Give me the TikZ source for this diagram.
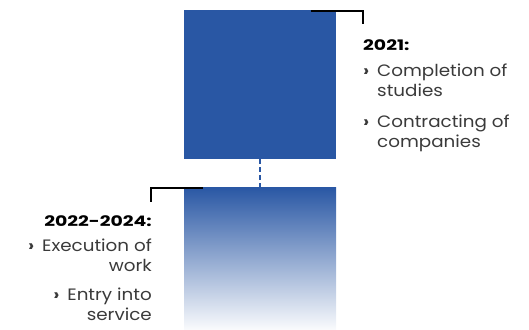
\documentclass[tikz,border=0pt]{standalone}
\usepackage{fontspec}
\setmainfont{Poppins}[FakeStretch=1.11]
\newfontfamily\headfont{Poppins}[FakeStretch=1.3]
\usetikzlibrary{positioning}
\definecolor{TLBlue}{HTML}{2957A4}
\definecolor{TLText}{HTML}{3A3A3A}
\newcommand{\itemmark}{\makebox[14pt][l]{\bfseries ›}}
\newcommand{\yearhead}[1]{{\headfont\fontsize{14.5}{20}\selectfont\bfseries\color{black}#1}}

\begin{document}
\begin{tikzpicture}[x=1pt,y=-1pt,
 phase/.style={minimum width=152pt,inner sep=0pt,outer sep=0pt,anchor=north west},
 link/.style={TLBlue,line width=2pt,dash pattern=on 5pt off 3pt},
 tick/.style={black,line width=2.4pt},
 note/.style={font=\fontsize{16.5}{20}\selectfont,text=TLText,inner sep=0pt}
]
\useasboundingbox (0,0) rectangle (529,329);
% two phases
\node[phase,fill=TLBlue,minimum height=149pt] (p1) at (184,10) {};
\node[phase,top color=TLBlue,bottom color=TLBlue!3,minimum height=142pt] (p2) at (184,187) {};
\draw[link] (p1.south) -- (p2.north);
% brackets
\draw[tick] ([shift={(-25,1)}]p1.north east) -| ++(52,13);
\draw[tick] ([shift={(19,1)}]p2.north west) -| ++(-52,14);
% notes
\node[note,anchor=base west] (n1) at (363,51) {\begin{tabular}[t]{@{}l@{}l@{}}
\multicolumn{2}{@{}l@{}}{\yearhead{2021:}}\\[5pt]
\itemmark & Completion of\\
 & studies\\[11pt]
\itemmark & Contracting of\\
 & companies
\end{tabular}};
\node[note,anchor=base east] (n2) at (152,226) {\begin{tabular}[t]{@{}r@{}}
\yearhead{2022-2024:}\\[5pt]
\itemmark Execution of\\
work\\[9pt]
\itemmark Entry into\\
service
\end{tabular}};
\end{tikzpicture}
\end{document}
